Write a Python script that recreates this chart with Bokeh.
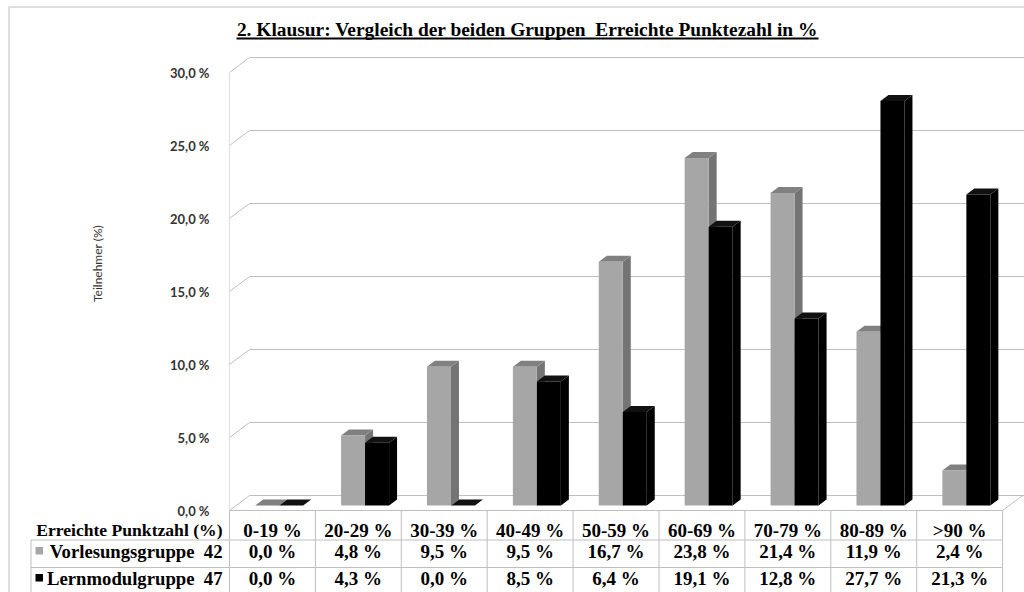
import math
from bokeh.plotting import figure
from bokeh.models import ColumnDataSource, Range1d, FixedTicker
from bokeh.core.properties import value
from bokeh.embed import file_html
from bokeh.resources import INLINE

# ---------------- data ----------------
categories = ["0-19 %", "20-29 %", "30-39 %", "40-49 %", "50-59 %",
              "60-69 %", "70-79 %", "80-89 %", ">90 %"]
vorlesung = [0.0, 4.8, 9.5, 9.5, 16.7, 23.8, 21.4, 11.9, 2.4]
lernmodul = [0.0, 4.3, 0.0, 8.5, 6.4, 19.1, 12.8, 27.7, 21.3]
series_names = ["Vorlesungsgruppe  42", "Lernmodulgruppe  47"]
series_colors = ["#A6A6A6", "#000000"]
series_side = ["#747474", "#000000"]
series_top = ["#808080", "#111111"]
row_header = "Erreichte Punktzahl (%)"
y_ticks = [0, 5, 10, 15, 20, 25, 30]
y_tick_labels = ["0,0 %", "5,0 %", "10,0 %", "15,0 %", "20,0 %", "25,0 %", "30,0 %"]
title_text = "2. Klausur: Vergleich der beiden Gruppen  Erreichte Punktezahl in %"
y_title = "Teilnehmer (%)"


def keep_spaces(s):
    # SVG collapses repeated blanks; keep the double spaces visible
    return s.replace("  ", " \u00a0")


# ---------------- layout ----------------
W, H = 1024, 592
SX = 85.9      # px per category
SY = 14.6      # px per percent
OX = 229       # canvas x of the front axis
OY = 510       # canvas y of 0 % (front plane)


def dx(px):
    return (px - OX) / SX


def dy(py):
    return (OY - py) / SY


n = len(categories)
DXW, DYW = 20 / SX, 15 / SY          # depth of the floor / back wall
BOX, BOY = DXW / 3, DYW / 3          # bar front offset in depth
BDX, BDY = 8 / SX, 6 / SY            # bar depth
GAP, BW = 19 / SX, 24 / SX           # left pad in column, bar width
XEND = (W - OX) / SX

p = figure(width=W, height=H, output_backend="svg", toolbar_location=None,
           x_range=Range1d(0, XEND), y_range=Range1d(dy(H), dy(0)),
           x_axis_location=None, y_axis_location="left",
           min_border_left=OX, min_border_right=0, min_border_top=0,
           min_border_bottom=0, outline_line_color=None,
           background_fill_color="white", border_fill_color="white")
p.xgrid.visible = False
p.ygrid.visible = False

ax = p.yaxis[0]
ax.ticker = FixedTicker(ticks=y_ticks)
ax.major_label_overrides = dict(zip(y_ticks, y_tick_labels))
ax.axis_line_color = None
ax.major_tick_line_color = None
ax.minor_tick_line_color = None
ax.major_label_standoff = 14
ax.major_label_text_font = "Lato"
ax.major_label_text_font_style = "bold"
ax.major_label_text_font_size = "13px"
ax.major_label_text_color = "#333333"

GRID = "#BFBFBF"
# back wall gridlines and diagonals
gx, gy = [], []
for v in y_ticks:
    gx.append([0, DXW, XEND]); gy.append([v, v + DYW, v + DYW])
# front axis line, floor front edge + right diagonal
gx.append([0, 0]); gy.append([0, y_ticks[-1]])
gx.append([0, n, n + DXW]); gy.append([0, 0, DYW])
p.multi_line(gx, gy, line_color=GRID, line_width=1)

# ---------------- 3D bars ----------------
for s, vals in enumerate([vorlesung, lernmodul]):
    fl, fr, fb, ft, sxs, sys_, txs, tys = [], [], [], [], [], [], [], []
    for i, v in enumerate(vals):
        x0 = i + GAP + s * BW + BOX
        x1 = x0 + BW
        y0 = BOY
        y1 = y0 + v
        fl.append(x0); fr.append(x1); fb.append(y0); ft.append(y1)
        sxs.append([x1, x1 + BDX, x1 + BDX, x1]); sys_.append([y0, y0 + BDY, y1 + BDY, y1])
        txs.append([x0, x1, x1 + BDX, x0 + BDX]); tys.append([y1, y1, y1 + BDY, y1 + BDY])
    p.patches(sxs, sys_, fill_color=series_side[s], line_color=None)
    p.patches(txs, tys, fill_color=series_top[s], line_color=None)
    p.quad(left=fl, right=fr, bottom=fb, top=ft, fill_color=series_colors[s], line_color=None)

# ---------------- chart border ----------------
p.multi_line([[dx(8.5), dx(8.5), XEND]], [[dy(H), dy(6.5), dy(6.5)]],
             line_color="#D4D4D4", line_width=1.5, level="overlay")

# ---------------- data table ----------------
y_top = 0
y_r1 = dy(539.5)
y_r2 = dy(567)
y_bot = dy(H)
x_left = dx(30.5)
tx, ty = [], []
for i in range(n + 1):
    tx.append([i, i]); ty.append([y_top, y_bot])
tx.append([x_left, n]); ty.append([y_r1, y_r1])
tx.append([x_left, n]); ty.append([y_r2, y_r2])
tx.append([x_left, x_left]); ty.append([y_r1, y_bot])
p.multi_line(tx, ty, line_color=GRID, line_width=1, level="overlay")

row_mid = [dy(529.5), dy(551), dy(578)]


def fmt(v):
    return ("%.1f" % v).replace(".", ",") + " %"


cells = ColumnDataSource(dict(
    x=[i + 0.5 for i in range(n)] * 3,
    y=[row_mid[0]] * n + [row_mid[1]] * n + [row_mid[2]] * n,
    t=categories + [fmt(v) for v in vorlesung] + [fmt(v) for v in lernmodul],
))
p.text(x="x", y="y", text="t", source=cells, text_font=value("Liberation Serif"),
       text_font_style="bold", text_font_size="19px", text_align="center",
       text_baseline="middle", text_color="black")

heads = ColumnDataSource(dict(
    x=[dx(222)] * 3,
    y=row_mid,
    t=[row_header] + [keep_spaces(s) for s in series_names],
    s=["17.6px", "18.7px", "18.7px"],
))
p.text(x="x", y="y", text="t", source=heads, text_font=value("Liberation Serif"),
       text_font_style="bold", text_font_size="s", text_align="right",
       text_baseline="middle", text_color="black", level="overlay")

# legend keys in the table
p.quad(left=[dx(35)] * 2, right=[dx(42.5)] * 2,
       bottom=[row_mid[1] - 3 / SY, row_mid[2] - 3 / SY],
       top=[row_mid[1] + 4.5 / SY, row_mid[2] + 4.5 / SY],
       fill_color=series_colors, line_color=None, level="overlay")

# ---------------- titles ----------------
p.text(x=[dx(527)], y=[dy(28.5)], text=[keep_spaces(title_text)], text_align="center",
       text_baseline="middle", text_font=value("Liberation Serif"),
       text_font_style="bold", text_font_size="19.4px", text_color="black")
p.segment(x0=[dx(236)], y0=[dy(38)], x1=[dx(818)], y1=[dy(38)], line_color="black", line_width=2)

p.text(x=[dx(97)], y=[dy(263)], text=[y_title], angle=math.pi / 2, text_align="center",
       text_baseline="middle", text_font=value("Lato"), text_font_size="12px",
       text_color="#333333", level="overlay")

open("out.html", "w").write(file_html(p, INLINE))
